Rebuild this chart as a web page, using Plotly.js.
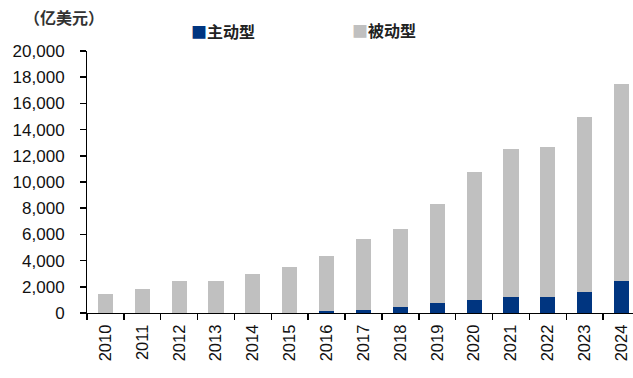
<!DOCTYPE html>
<html>
<head>
<meta charset="utf-8">
<script src="https://cdn.plot.ly/plotly-3.0.1.min.js"></script>
<style>html,body{margin:0;padding:0;background:#fff;}#chart{width:633px;height:378px;}</style>
</head>
<body>
<div id="chart"></div>
<script>
const years = ['2010','2011','2012','2013','2014','2015','2016','2017','2018','2019','2020','2021','2022','2023','2024'];
const activeValues = [5, 8, 10, 12, 15, 20, 130, 230, 460, 730, 1000, 1230, 1230, 1600, 2420];
const passiveValues = [1425, 1852, 2460, 2438, 2995, 3470, 4250, 5450, 5930, 7560, 9730, 11270, 11480, 13370, 15030];
const yTickVals = [0, 2000, 4000, 6000, 8000, 10000, 12000, 14000, 16000, 18000, 20000];
const seriesNames = ['主动型', '被动型'];
const unitLabel = '（亿美元）';

const cjk = '"Noto Sans CJK SC", "Noto Sans", sans-serif';
const num = '"Liberation Sans", Arial, sans-serif';
const blue = '#003580';
const grey = '#c0c0c0';

const traces = [
  {type: 'bar', name: seriesNames[0], x: years, y: activeValues, marker: {color: blue}, width: 0.41},
  {type: 'bar', name: seriesNames[1], x: years, y: passiveValues, marker: {color: grey}, width: 0.41}
];

const layout = {
  width: 633, height: 378,
  margin: {l: 87, r: 0, t: 51, b: 65, pad: 0},
  barmode: 'stack',
  showlegend: false,
  paper_bgcolor: '#fff', plot_bgcolor: '#fff',
  xaxis: {
    type: 'category',
    range: [-0.5, 14.31],
    showline: true, linecolor: '#000', linewidth: 1,
    ticks: 'outside', tickson: 'boundaries', ticklen: 6, tickcolor: '#000', tickwidth: 1.5,
    tickangle: -90,
    ticklabelstandoff: 4,
    tickfont: {family: num, size: 16.5, color: '#111'},
    showgrid: false, zeroline: false
  },
  yaxis: {
    range: [0, 20000],
    tickvals: yTickVals,
    tickformat: ',d',
    showline: true, linecolor: '#000', linewidth: 1,
    ticks: 'outside', ticklen: 6, tickcolor: '#000', tickwidth: 1.5,
    ticklabelstandoff: 12,
    tickfont: {family: num, size: 17, color: '#111'},
    showgrid: false, zeroline: false
  },
  annotations: [
    {text: '<b>' + unitLabel + '</b>', xref: 'paper', yref: 'paper', x: (64-87)/546, y: (378-65-17)/262, xanchor: 'center', yanchor: 'middle', showarrow: false, font: {family: cjk, size: 16, color: '#333'}},
    {text: '<span style="color:' + blue + '">■</span><b>' + seriesNames[0] + '</b>', xref: 'paper', yref: 'paper', x: (189-87)/546, y: (378-65-31)/262, xanchor: 'left', yanchor: 'middle', showarrow: false, font: {family: cjk, size: 16, color: '#222'}},
    {text: '<span style="color:' + grey + '">■</span><b>' + seriesNames[1] + '</b>', xref: 'paper', yref: 'paper', x: (350-87)/546, y: (378-65-30)/262, xanchor: 'left', yanchor: 'middle', showarrow: false, font: {family: cjk, size: 16, color: '#222'}}
  ]
};

Plotly.newPlot('chart', traces, layout, {displayModeBar: false, staticPlot: true});
</script>
</body>
</html>
